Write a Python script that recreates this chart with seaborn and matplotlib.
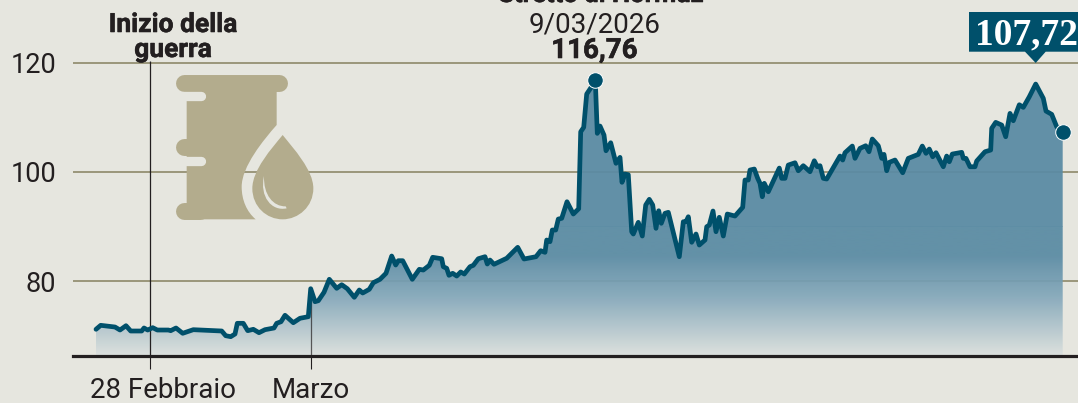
import numpy as np
import pandas as pd
import matplotlib
matplotlib.use("Agg")
import matplotlib.pyplot as plt
import matplotlib.patheffects as pe
import seaborn as sns
from matplotlib.colors import LinearSegmentedColormap
from matplotlib.patches import PathPatch, Polygon
from matplotlib.path import Path
from matplotlib.transforms import Affine2D, ScaledTranslation

# position along the time axis (trading ticks)
ticks_pos = [
    0, 4.7, 19, 24, 30, 34.7, 45.7, 48, 51.7, 56.7, 61.3, 72.3, 74.7, 80, 86.7, 97.3,
    125.7, 129.7, 134.7, 139, 141.3, 147.3, 151.7, 157.3, 163, 169, 178, 180.7, 185, 189,
    197.3, 204, 212.3, 214.7, 219, 222.3, 228, 233.3, 240.7, 245.7, 251.3, 258.3, 263.3,
    266.7, 273.3, 277.3, 284, 290, 295.7, 299.7, 302.3, 306.7, 316.3, 323.3, 327.3, 333.3,
    336.7, 345.7, 347.3, 350.7, 353, 356.7, 360.7, 364.7, 368.3, 374, 377.3, 382.3, 389,
    391.3, 394, 398, 410.7, 421.7, 428, 440, 444.7, 449, 450.7, 454, 456.3, 459.7, 462.3,
    465.7, 471, 477.3, 482.7, 484.7, 487.7, 490.7, 494.7, 499.3, 501.3, 504, 508, 510,
    514.7, 520, 524, 526, 529, 532.3, 535.7, 537.3, 542.3, 546.3, 549.7, 553.3,
    556.7, 560, 562.7, 565.3, 569, 572.3, 583.3, 587.3, 590, 592.3, 595.7, 600, 603.3,
    609, 610.7, 613.3, 617, 620, 623.3, 627.3, 631.3, 639, 646.7, 649, 652.3, 654, 658.3,
    661.7, 664, 666.3, 668.3, 672.3, 683.3, 685.7, 689, 692.3, 699, 702.3, 707.3, 714,
    718.3, 721.3, 724, 727.3, 730.7, 744, 746.7, 749, 756.3, 759, 764, 769.7, 773, 776.3,
    782.3, 785.7, 788, 790.7, 793.3, 799, 806.7, 812.3, 822.3, 826.3, 830, 833.3, 836.7,
    840, 847.3, 850.7, 853.3, 856.3, 865.7, 867.3, 870, 874, 879, 880.7, 889, 894.7,
    895.7, 899.7, 905.7, 909.7, 914, 917.3, 923.3, 927.3, 933.3, 939.7, 947.3, 950, 955.7,
    960.7, 966.7,
]
prices = [
    71.17, 71.90, 71.59, 71.04, 71.83, 70.86, 70.86, 71.41, 71.04, 71.47, 71.04, 71.04,
    70.92, 71.41, 70.44, 71.10, 70.86, 70.00, 69.82, 70.31, 72.27, 72.27, 70.92, 71.17,
    70.55, 71.10, 71.41, 72.27, 72.56, 73.74, 72.38, 73.19, 73.48, 78.61, 76.23, 76.41,
    77.95, 80.33, 78.68, 79.34, 78.61, 77.03, 78.37, 77.82, 78.50, 79.71, 80.33, 81.43,
    84.60, 82.95, 83.74, 83.74, 80.33, 82.16, 82.03, 82.89, 84.36, 84.10, 82.64, 82.34,
    81.06, 81.43, 80.93, 81.67, 81.30, 82.64, 82.89, 84.10, 84.47, 83.13, 83.86, 83.08,
    84.18, 86.19, 84.05, 84.47, 85.57, 85.27, 87.53, 87.22, 89.36, 89.36, 91.37, 91.50,
    94.54, 92.29, 93.26, 107.36, 108.17, 114.27, 115.37, 116.76, 107.07, 108.41, 106.76,
    103.88, 105.35, 101.58, 102.67, 98.10, 99.62, 99.49, 89.05, 88.63, 90.77, 88.26,
    93.94, 94.98, 93.94, 89.67, 92.89, 90.59, 92.42, 92.60, 84.47, 90.88, 90.88, 91.79,
    87.11, 88.63, 86.61, 87.53, 89.96, 90.27, 92.84, 89.05, 91.69, 88.26, 92.29, 91.92,
    93.52, 98.52, 98.52, 100.35, 100.53, 98.83, 97.91, 95.46, 97.91, 96.37, 100.71, 98.83,
    98.83, 101.26, 101.68, 100.22, 101.14, 100.04, 102.05, 100.95, 101.14, 98.83, 98.70,
    102.91, 102.18, 103.52, 104.74, 102.49, 104.32, 104.80, 103.70, 106.03, 104.80, 102.49,
    103.22, 100.22, 101.76, 102.18, 99.85, 102.49, 103.22, 104.74, 103.41, 104.19, 102.78,
    103.52, 100.95, 102.91, 101.87, 103.28, 103.59, 102.49, 102.49, 100.95, 100.95, 102.00,
    103.70, 104.01, 107.99, 109.08, 108.59, 106.45, 110.73, 109.38, 112.31, 111.83,
    113.77, 116.10, 113.48, 111.15, 110.55, 108.28, 107.25,
]

y_ticks = [80, 100, 120]
x_tick_pos = [54, 215]
x_tick_labels = ["28 Febbraio", "Marzo"]
peak_label = ["Stretto di Hormuz", "9/03/2026", "116,76"]
last_label = "107,72"
war_label = ["Inizio della", "guerra"]

BG = "#e6e6df"
LINE = "#00506b"
GRID = "#868160"
DARK = "#231f20"
TAN = "#b3ac8d"
FILL = "#5a8ba4"

df = pd.DataFrame({"pos": ticks_pos, "price": prices})

sns.set_style("white")
plt.rcParams["font.family"] = "Roboto"

fig = plt.figure(figsize=(10.78, 4.03), dpi=100, facecolor=BG)
ax = fig.add_axes([73 / 1078, (403 - 356) / 403, 1005 / 1078, 356 / 403], facecolor=BG)

y_min, y_max = 66.28, 131.5
x_min, x_max = -23, 982

# pixel coordinates of the picture, origin top left, for labels and the icon
px = Affine2D().scale(1, -1).translate(0, 403)

ax.hlines(y_ticks, x_min, x_max, color=GRID, lw=1.1, zorder=1)

# gradient under the line
cmap = LinearSegmentedColormap.from_list(
    "fade", [(0, "#dde1de"), (0.45, "#86a9bb"), (0.78, FILL), (1, FILL)]
)
grad = np.linspace(1, 0, 256).reshape(-1, 1)
area = ax.fill_between(df["pos"], y_min, df["price"], color="none", lw=0)
img = ax.imshow(
    grad, cmap=cmap, aspect="auto", alpha=0.94, zorder=2,
    extent=[df["pos"].min(), df["pos"].max(), y_min, 90],
)
img.set_clip_path(area.get_paths()[0], transform=ax.transData)
ax.fill_between(df["pos"], 90, df["price"], where=df["price"] >= 90, interpolate=True,
                color=FILL, alpha=0.94, lw=0, zorder=2)

ax.vlines(x_tick_pos[0], y_min, 120.3, color=DARK, lw=0.9, zorder=3)
ax.vlines(x_tick_pos[1], y_min, 78, color=DARK, lw=0.9, alpha=0.7, zorder=3)

sns.lineplot(data=df, x="pos", y="price", color=LINE, lw=3.4, estimator=None, sort=False,
             ax=ax, zorder=4, solid_joinstyle="round")
ends = df.iloc[[df["price"].idxmax(), len(df) - 1]]
sns.scatterplot(data=ends, x="pos", y="price", color=LINE, s=125, edgecolor="white",
                linewidth=0.7, ax=ax, zorder=5, clip_on=False)

ax.set_xlim(x_min, x_max)
ax.set_ylim(y_min, y_max)
ax.set_xlabel("")
ax.set_ylabel("")
sns.despine(ax=ax, left=True, top=True, right=True)
ax.spines["bottom"].set_linewidth(2.3)
ax.spines["bottom"].set_color(DARK)
ax.spines["bottom"].set_zorder(6)

ax.set_yticks(y_ticks)
ax.tick_params(axis="y", length=0, pad=12, labelsize=19.5, labelcolor=DARK)
ax.set_xticks(x_tick_pos)
ax.set_xticklabels(x_tick_labels)
ax.tick_params(axis="x", length=9.4, width=0.8, color=DARK, pad=5.5, labelsize=20, labelcolor=DARK,
               bottom=True)
lab = ax.get_xticklabels()[0]
lab.set_transform(lab.get_transform() + ScaledTranslation(0.13, 0, fig.dpi_scale_trans))

# labels
heavy = [pe.withStroke(linewidth=0.4, foreground=DARK)]
for x, y, txt, size in [
    (173, 32, war_label[0], 19),
    (173, 57, war_label[1], 19),
    (601, 2, peak_label[0], 18.5),
    (594.5, 58, peak_label[2], 20),
]:
    ax.text(x, y, txt, transform=px, ha="center", va="baseline", fontsize=size,
            fontweight="bold", color=DARK, zorder=7, path_effects=heavy)
ax.text(594.5, 32, peak_label[1], transform=px, ha="center", va="baseline",
        fontsize=20, color=DARK)

# callout with the last value
ax.add_patch(Polygon(
    [(969, 12), (1078, 12), (1078, 51.7), (1045.7, 51.7), (1035.7, 63), (1025, 51.7), (969, 51.7)],
    closed=True, transform=px, fc=LINE, ec="none", zorder=7, clip_on=False))
ax.text(1077.5, 44.5, last_label, transform=px, ha="right", va="baseline", color="white",
        family="Liberation Serif", fontweight="bold", fontsize=27, zorder=8)


# barrel icon, coordinates are in the 3x zoom of the reference
def icon(pts):
    return [(x / 3, y / 3) for x, y in pts]


M, C, L = Path.MOVETO, Path.CURVE4, Path.LINETO
body = icon([(560, 273), (830, 273), (830, 375), (790, 420), (725, 500), (725, 560),
             (725, 600), (740, 635), (767, 658), (560, 658), (560, 273)])
body_codes = [M, L, L, C, C, C, C, C, C, L, L]
ax.add_patch(PathPatch(Path(body, body_codes), transform=px, fc=TAN, ec="none", zorder=3))

drop = icon([(848, 405), (880, 445), (940, 510), (940, 565), (940, 620), (895, 658), (848, 658),
             (800, 658), (757, 620), (757, 565), (757, 510), (815, 445), (848, 405)])
ax.add_patch(PathPatch(Path(drop, [M] + [C] * 12), transform=px, fc=TAN, ec="none", zorder=3))
shine = icon([(792, 528), (778, 590), (815, 635), (860, 625), (857, 619),
              (820, 620), (790, 585), (792, 528)])
ax.add_patch(PathPatch(Path(shine, [M, C, C, C, L, C, C, C]), transform=px, fc=BG, ec="none", zorder=3))

for (x0, x1, y, w, col) in [(553, 837, 248, 12.2, TAN), (553, 600, 441, 12.2, TAN), (553, 600, 633, 12.2, TAN),
                            (520, 603, 289, 6.7, BG), (520, 603, 482, 6.7, BG)]:
    ax.plot([x0 / 3, x1 / 3], [y / 3, y / 3], transform=px, color=col, lw=w,
            solid_capstyle="round", zorder=3)
ax.set_xlim(x_min, x_max)
ax.set_ylim(y_min, y_max)

fig.savefig("out.png", dpi=100, facecolor=BG)
